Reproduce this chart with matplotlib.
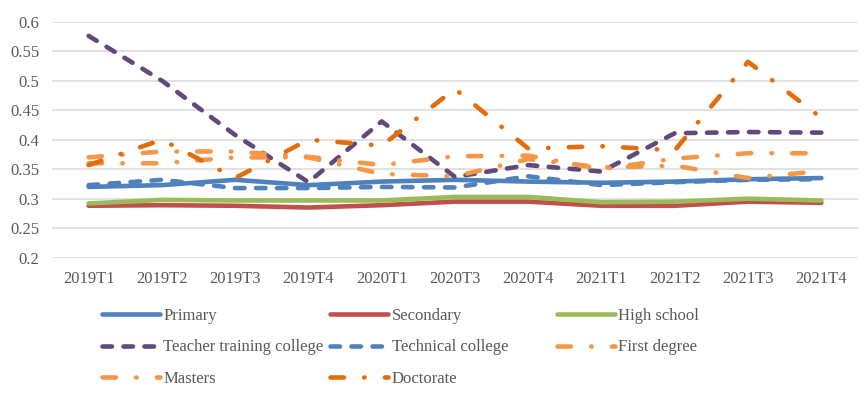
#!/usr/bin/env python3
"""Quarterly ratios by education level, Excel-style line chart."""

from __future__ import annotations

import matplotlib

matplotlib.use("Agg")
import matplotlib.pyplot as plt
from matplotlib.ticker import FuncFormatter, MultipleLocator

categories = [
    "2019T1", "2019T2", "2019T3", "2019T4", "2020T1", "2020T3",
    "2020T4", "2021T1", "2021T2", "2021T3", "2021T4",
]

primary = [0.320, 0.323, 0.332, 0.323, 0.329, 0.332, 0.329, 0.327, 0.329, 0.333, 0.335]
secondary = [0.288, 0.289, 0.288, 0.285, 0.289, 0.295, 0.295, 0.288, 0.288, 0.295, 0.293]
high_school = [0.292, 0.298, 0.297, 0.297, 0.297, 0.303, 0.303, 0.294, 0.295, 0.300, 0.297]
teacher_training = [0.576, 0.500, 0.408, 0.328, 0.431, 0.337, 0.357, 0.346, 0.411, 0.413, 0.412]
technical = [0.323, 0.332, 0.318, 0.318, 0.320, 0.319, 0.338, 0.323, 0.328, 0.332, 0.333]
first_degree = [0.370, 0.380, 0.380, 0.371, 0.357, 0.372, 0.373, 0.350, 0.368, 0.377, 0.377]
masters = [0.360, 0.360, 0.370, 0.370, 0.342, 0.338, 0.367, 0.353, 0.356, 0.335, 0.347]
doctorate = [0.357, 0.400, 0.335, 0.400, 0.390, 0.486, 0.385, 0.389, 0.382, 0.532, 0.437]

TEXT = "#595959"
GRID = "#D9D9D9"
LW = 3.3  # points

PX = 0.72  # points per pixel at dpi 100
DASHED = (0, (9.5 * PX, 11.5 * PX))
DASH_DOT = (0, (13.4 * PX, 20.3 * PX, 0.4 * PX, 20.3 * PX))

SERIES = (
    ("Primary", primary, "#4F81BD", "-"),
    ("Secondary", secondary, "#C0504D", "-"),
    ("High school", high_school, "#9BBB59", "-"),
    ("Teacher training college", teacher_training, "#604A7B", DASHED),
    ("Technical college", technical, "#4F81BD", DASHED),
    ("First degree", first_degree, "#F79646", DASH_DOT),
    ("Masters", masters, "#F79646", DASH_DOT),
    ("Doctorate", doctorate, "#E46C0A", DASH_DOT),
)

# legend columns as Excel lays them out (row-wise order)
LEGEND_COLS = (
    ("Primary", "Teacher training college", "Masters"),
    ("Secondary", "Technical college", "Doctorate"),
    ("High school", "First degree"),
)
LEGEND_X = (101.7, 330.0, 556.7)


def main() -> int:
    plt.rcParams["font.family"] = ["Liberation Serif", "DejaVu Serif"]
    plt.rcParams["font.size"] = 12
    plt.rcParams["lines.scale_dashes"] = False

    fig = plt.figure(figsize=(8.68, 3.95), dpi=100)
    ax = fig.add_axes([52 / 868, 1 - 257.7 / 395, 806 / 868, 236 / 395])

    x = list(range(len(categories)))
    handles = {}
    for label, values, color, style in SERIES:
        (line,) = ax.plot(
            x, values, color=color, linestyle=style, linewidth=LW,
            dash_capstyle="round", solid_capstyle="round",
            solid_joinstyle="round", dash_joinstyle="round", label=label,
        )
        handles[label] = line

    ax.set_xlim(-0.5, len(categories) - 0.5)
    ax.set_ylim(0.2, 0.6)
    ax.set_xticks(x)
    ax.set_xticklabels(categories)
    ax.yaxis.set_major_locator(MultipleLocator(0.05))
    ax.yaxis.set_major_formatter(FuncFormatter(lambda v, _: f"{round(v, 2):g}"))
    ax.tick_params(axis="both", length=0, colors=TEXT, labelsize=12)
    ax.tick_params(axis="y", pad=9)
    ax.tick_params(axis="x", pad=9.5)
    ax.grid(axis="y", color=GRID, linewidth=1.1)
    ax.set_axisbelow(True)
    for spine in ax.spines.values():
        spine.set_visible(False)

    for col, xpos in zip(LEGEND_COLS, LEGEND_X):
        fig.legend(
            [handles[name] for name in col],
            list(col),
            loc="upper left",
            bbox_to_anchor=(xpos / 868, 1 - 308 / 395),
            frameon=False,
            borderpad=0,
            borderaxespad=0,
            handlelength=3.5,
            handletextpad=0.2,
            labelspacing=0.92,
            labelcolor=TEXT,
            fontsize=12,
        )

    fig.savefig("out.png", dpi=100)
    plt.close(fig)
    return 0


if __name__ == "__main__":
    raise SystemExit(main())
